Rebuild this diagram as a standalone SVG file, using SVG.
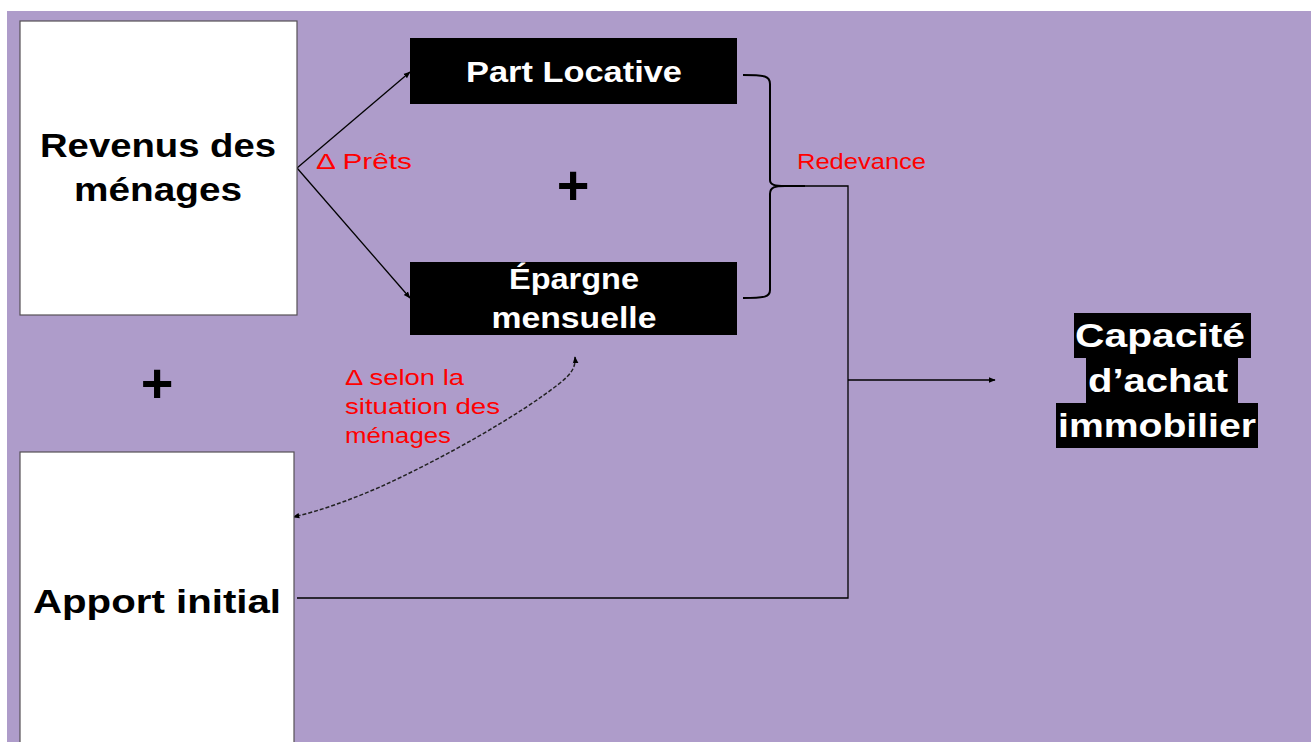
<svg xmlns="http://www.w3.org/2000/svg" width="1311" height="742" viewBox="0 0 1311 742">
<style>
.bold{font-family:"Liberation Sans",Arial,sans-serif;font-weight:bold}
.red{font-family:"Liberation Sans",Arial,sans-serif;fill:#ff0000;font-size:22px}
.wbox{fill:#ffffff;stroke:#555055;stroke-width:1.2}
.bbox{fill:#000000}
.ln{fill:none;stroke:#000;stroke-width:1.3}
</style>
<defs>
<marker id="ah" viewBox="0 0 10 10" refX="9" refY="5" markerWidth="7" markerHeight="7" orient="auto-start-reverse" markerUnits="userSpaceOnUse">
<path d="M0,1 L10,5 L0,9 z" fill="#000"/>
</marker>
</defs>
<rect x="0" y="0" width="1311" height="742" fill="#ffffff"/>
<rect x="7" y="11" width="1304" height="731" fill="#ae9cca"/>

<g id="connectors">
<line class="ln" x1="297" y1="168" x2="410" y2="72" marker-end="url(#ah)"/>
<line class="ln" x1="297" y1="168" x2="410" y2="298" marker-end="url(#ah)"/>
<path fill="none" stroke="#000" stroke-width="2" d="M743,75 C765,75 770,76 770,84 L770,180 C770,185 775,186 785,186 L805,186 M785,186 C775,186 770,187 770,194 L770,290 C770,297 765,298 743,298"/>
<polyline class="ln" points="790,186 848,186 848,598 297,598"/>
<line class="ln" x1="848" y1="380" x2="995" y2="380" marker-end="url(#ah)"/>
<path fill="none" stroke="#222" stroke-width="1.5" stroke-dasharray="4,2" d="M575,357 C576,368 570,375 560,383 C520,415 440,460 380,487 C350,500 320,511 293,517" marker-start="url(#ah)" marker-end="url(#ah)"/>
</g>

<g id="revenus">
<rect class="wbox" x="20" y="21" width="277" height="294"/>
<text class="bold" font-size="33" text-anchor="middle" x="158" y="157" textLength="236" lengthAdjust="spacingAndGlyphs">Revenus des</text>
<text class="bold" font-size="33" text-anchor="middle" x="158" y="201" textLength="168" lengthAdjust="spacingAndGlyphs">ménages</text>
</g>

<g id="apport">
<rect class="wbox" x="20" y="452" width="274" height="300"/>
<text class="bold" font-size="34" text-anchor="middle" x="157" y="613" textLength="248" lengthAdjust="spacingAndGlyphs">Apport initial</text>
</g>

<g id="part-locative">
<rect class="bbox" x="410" y="38" width="327" height="66"/>
<text class="bold" font-size="29" fill="#fff" text-anchor="middle" x="574" y="82" textLength="216" lengthAdjust="spacingAndGlyphs">Part Locative</text>
</g>

<g id="epargne">
<rect class="bbox" x="410" y="262" width="327" height="73"/>
<text class="bold" font-size="29" fill="#fff" text-anchor="middle" x="574" y="289" textLength="130" lengthAdjust="spacingAndGlyphs">Épargne</text>
<text class="bold" font-size="29" fill="#fff" text-anchor="middle" x="574" y="328" textLength="165" lengthAdjust="spacingAndGlyphs">mensuelle</text>
</g>

<g id="capacite">
<rect class="bbox" x="1074" y="313" width="177" height="45"/>
<rect class="bbox" x="1086" y="358" width="152" height="45"/>
<rect class="bbox" x="1056" y="403" width="202" height="45"/>
<text class="bold" font-size="33" fill="#fff" text-anchor="middle" x="1160" y="347" textLength="170" lengthAdjust="spacingAndGlyphs">Capacité</text>
<text class="bold" font-size="33" fill="#fff" text-anchor="middle" x="1158" y="392" textLength="140" lengthAdjust="spacingAndGlyphs">d’achat</text>
<text class="bold" font-size="33" fill="#fff" text-anchor="middle" x="1157" y="437" textLength="198" lengthAdjust="spacingAndGlyphs">immobilier</text>
</g>

<g id="labels">
<text class="red" x="316" y="169" textLength="96" lengthAdjust="spacingAndGlyphs">Δ Prêts</text>
<text class="red" x="797" y="169" textLength="129" lengthAdjust="spacingAndGlyphs">Redevance</text>
<text class="red" x="345" y="385" textLength="119" lengthAdjust="spacingAndGlyphs">Δ selon la</text>
<text class="red" x="345" y="414" textLength="155" lengthAdjust="spacingAndGlyphs">situation des</text>
<text class="red" x="345" y="443" textLength="106" lengthAdjust="spacingAndGlyphs">ménages</text>
</g>

<g id="plus-signs">
<text class="bold" font-size="56" text-anchor="middle" x="573" y="204">+</text>
<text class="bold" font-size="56" text-anchor="middle" x="157" y="402">+</text>
</g>
</svg>
